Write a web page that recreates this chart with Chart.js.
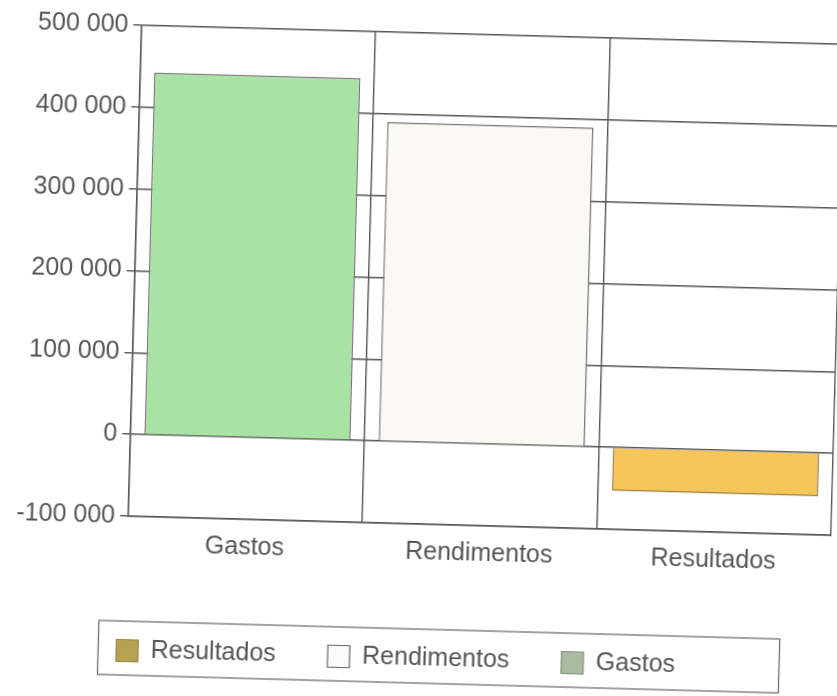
<!DOCTYPE html>
<html>
<head>
<meta charset="utf-8">
<script src="https://cdn.jsdelivr.net/npm/chart.js@4.4.1/dist/chart.umd.min.js"></script>
<style>
  html, body { margin: 0; padding: 0; background: #fff; overflow: hidden; }
  #wrap { width: 837px; height: 696px; transform: rotate(1.56deg); transform-origin: 50% 50%; }
</style>
</head>
<body>
<div id="wrap"><canvas id="chart" width="837" height="696"></canvas></div>
<script>
const categories = ["Gastos", "Rendimentos", "Resultados"];
const values = [443000, 390000, -53000];
const barColors = ["#a9e2a5", "#fbf9f5", "#f6c65b"];
const barBorders = ["#777777", "#777777", "#9a8040"];
const yMin = -100000;
const yMax = 500000;
const yStep = 100000;

// legend in the scan is listed in reverse order with its own swatch tints
const legendNames = ["Resultados", "Rendimentos", "Gastos"];
const legendFills = ["#b8a152", "#fbfbfb", "#a9bca2"];
const legendStrokes = ["#9a8a4a", "#666666", "#7d8f7a"];

const FONT = "Liberation Sans";
const LEG_PAD = 52;

function spaced(v) {
  const s = String(Math.abs(v)).replace(/\B(?=(\d{3})+(?!\d))/g, " ");
  return v < 0 ? "-" + s : s;
}

const legendBox = {
  id: "legendBox",
  afterLayout(chart) {
    // the scanned legend sits a little left of centre
    chart.legend.left -= 22;
    chart.legend.right -= 22;
  },
  afterDraw(chart) {
    const lg = chart.legend;
    if (!lg || !lg.lineWidths) return;
    const lw = lg.lineWidths[0];
    const itemsLeft = (lg.left + LEG_PAD + lg.right - lw) / 2;
    const itemsRight = itemsLeft + lw - LEG_PAD;
    const itemTop = lg.top + LEG_PAD;
    const ctx = chart.ctx;
    ctx.save();
    ctx.strokeStyle = "#666";
    ctx.lineWidth = 1.2;
    ctx.strokeRect(itemsLeft - 18, itemTop - 17, itemsRight - itemsLeft + 122, 54);
    ctx.restore();
  },
};

new Chart(document.getElementById("chart"), {
  type: "bar",
  data: {
    labels: categories,
    datasets: [{
      data: values,
      backgroundColor: barColors,
      borderColor: barBorders,
      borderWidth: 1.5,
      barPercentage: 0.88,
      categoryPercentage: 1,
    }],
  },
  options: {
    responsive: false,
    animation: false,
    layout: { padding: { left: 16, right: 1, top: 33, bottom: 15 } },
    scales: {
      x: {
        grid: { color: "#555", lineWidth: 1.4, offset: true, tickLength: 0 },
        border: { color: "#555", width: 1.4 },
        ticks: { color: "#555", padding: 13, font: { family: FONT, size: 25 } },
        afterFit(scale) { scale.height += 14; },
      },
      y: {
        min: yMin,
        max: yMax,
        grid: { color: "#555", lineWidth: 1.4, tickLength: 8 },
        border: { color: "#555", width: 1.4 },
        ticks: {
          stepSize: yStep,
          color: "#555",
          padding: 5,
          font: { family: FONT, size: 25 },
          callback: (v) => spaced(v),
        },
      },
    },
    plugins: {
      tooltip: { enabled: false },
      legend: {
        position: "bottom",
        labels: {
          color: "#555",
          boxWidth: 22,
          boxHeight: 22,
          padding: LEG_PAD,
          font: { family: FONT, size: 25 },
          generateLabels: () => legendNames.map((name, i) => ({
            text: name,
            fillStyle: legendFills[i],
            strokeStyle: legendStrokes[i],
            lineWidth: 1.2,
            fontColor: "#555",
            hidden: false,
            index: i,
          })),
        },
      },
    },
  },
  plugins: [legendBox],
});
</script>
</body>
</html>
